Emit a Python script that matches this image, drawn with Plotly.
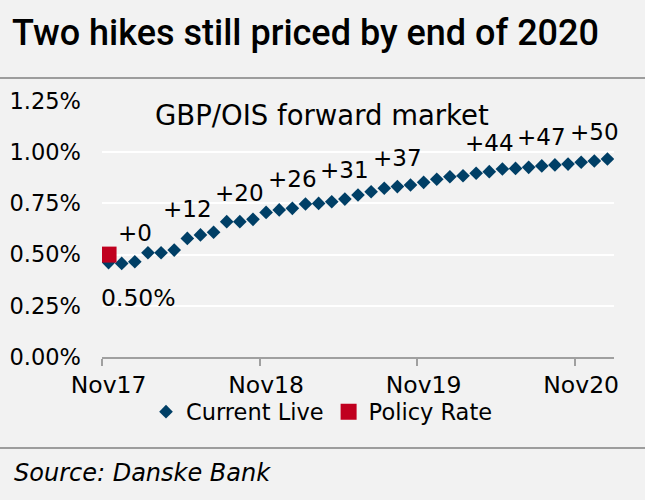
import plotly.graph_objects as go

# ---- data ----
months = ["Nov17", "Dec17", "Jan18", "Feb18", "Mar18", "Apr18", "May18", "Jun18", "Jul18", "Aug18",
          "Sep18", "Oct18", "Nov18", "Dec18", "Jan19", "Feb19", "Mar19", "Apr19", "May19", "Jun19",
          "Jul19", "Aug19", "Sep19", "Oct19", "Nov19", "Dec19", "Jan20", "Feb20", "Mar20", "Apr20",
          "May20", "Jun20", "Jul20", "Aug20", "Sep20", "Oct20", "Nov20", "Dec20", "Jan21"]
current_live = [0.461, 0.457, 0.465, 0.509, 0.509, 0.522, 0.579, 0.596, 0.609, 0.661,
                0.661, 0.672, 0.706, 0.718, 0.726, 0.747, 0.750, 0.758, 0.771, 0.791,
                0.807, 0.824, 0.832, 0.840, 0.853, 0.868, 0.880, 0.885, 0.897, 0.905,
                0.918, 0.921, 0.926, 0.933, 0.938, 0.942, 0.951, 0.957, 0.967]
policy_month = ["Nov17"]
policy_rate = [0.50]
hike_label_idx = [2, 6, 10, 14, 18, 22, 29, 33, 37]
hike_labels = ["+0", "+12", "+20", "+26", "+31", "+37", "+44", "+47", "+50"]
x_tick_labels = ["Nov17", "Nov18", "Nov19", "Nov20"]
y_ticks = [0, 0.25, 0.5, 0.75, 1.0, 1.25]

BLUE = "#003f66"
RED = "#c0001f"
BG = "#f2f2f2"
FONT = "DejaVu Sans"

W, H = 645, 500
L, R, T, B = 102, 31, 101, 143
pw, ph = W - L - R, H - T - B


def px_x(x):
    return (x - L) / pw


def px_y(y):
    return (H - B - y) / ph


# month categories mapped to positions 0..n-1 (category-style axis)
xpos = list(range(len(months)))
policy_pos = [months.index(m) for m in policy_month]
label_pos = [months.index(m) for m in x_tick_labels]
boundary_pos = [p - 0.5 for p in label_pos]

fig = go.Figure()
fig.add_trace(go.Scatter(
    x=xpos, y=current_live, mode="markers", name="Current Live", customdata=months,
    hovertemplate="%{customdata}: %{y:.2f}%<extra></extra>",
    marker=dict(symbol="diamond", size=10.5, color=BLUE, line=dict(width=0)),
))
fig.add_trace(go.Scatter(
    x=policy_pos, y=policy_rate, mode="markers", name="Policy Rate", customdata=policy_month,
    hovertemplate="%{customdata}: %{y:.2f}%<extra></extra>",
    marker=dict(symbol="square", size=16, color=RED, line=dict(width=0)),
))

annotations = []
for i, t in zip(hike_label_idx, hike_labels):
    annotations.append(dict(
        x=xpos[i], y=current_live[i], xref="x", yref="y", text=t, showarrow=False,
        yshift=29, font=dict(family=FONT, size=23, color="#000000"),
        xanchor="center", yanchor="middle",
    ))
annotations.append(dict(
    x=policy_pos[0], y=policy_rate[0], xref="x", yref="y",
    text=f"{policy_rate[0]:.2f}%", showarrow=False, xanchor="left", yanchor="middle",
    xshift=-10, yshift=-43, font=dict(family=FONT, size=23.5, color="#000000"),
))
annotations.append(dict(
    x=px_x(322), y=px_y(115), xref="paper", yref="paper", text="GBP/OIS forward market",
    showarrow=False, xanchor="center", yanchor="middle",
    font=dict(family=FONT, size=27.5, color="#000000"),
))
annotations.append(dict(
    x=px_x(12), y=px_y(473), xref="paper", yref="paper",
    text="<i>Source: Danske Bank</i>", showarrow=False, xanchor="left", yanchor="middle",
    font=dict(family=FONT, size=24, color="#000000"),
))

fig.update_layout(
    width=W, height=H,
    margin=dict(l=L, r=R, t=T, b=B, pad=0, autoexpand=False),
    paper_bgcolor=BG, plot_bgcolor=BG,
    font=dict(family=FONT, color="#000000"),
    title=dict(
        text="Two hikes still priced by end of 2020",
        x=12 / W, xanchor="left", xref="container",
        y=1 - 32 / H, yanchor="middle", yref="container",
        font=dict(family="Roboto", size=36, color="#000000", weight=500),
    ),
    showlegend=True,
    legend=dict(
        orientation="h", x=px_x(322), y=px_y(412),
        xanchor="center", yanchor="middle",
        font=dict(family=FONT, size=22.5, color="#000000"),
        bgcolor="rgba(0,0,0,0)", itemwidth=30, tracegroupgap=0,
    ),
    annotations=annotations,
    shapes=[
        dict(type="line", xref="paper", yref="paper",
             x0=px_x(0), x1=px_x(W), y0=px_y(78), y1=px_y(78),
             line=dict(color="#808080", width=1.5)),
        dict(type="line", xref="paper", yref="paper",
             x0=px_x(0), x1=px_x(W), y0=px_y(448), y1=px_y(448),
             line=dict(color="#808080", width=1.5)),
    ],
)

fig.update_xaxes(
    type="linear", range=[-0.5, len(months) - 0.5],
    tickmode="array", tickvals=label_pos, ticktext=x_tick_labels, tickangle=0,
    ticks="",
    minor=dict(tickmode="array", tickvals=boundary_pos, ticks="outside", ticklen=7,
               tickwidth=1.5, tickcolor="#a0a0a0", showgrid=False),
    showline=True, linecolor="#a0a0a0", linewidth=1.5,
    showgrid=False, zeroline=False,
    tickfont=dict(family=FONT, size=23.5, color="#000000"),
    ticklabelstandoff=6,
)
fig.update_yaxes(
    range=[0, 1.25], tickmode="array", tickvals=y_ticks,
    ticktext=[f"{v:.2f}%" for v in y_ticks],
    showgrid=True, gridcolor="#ffffff", gridwidth=2,
    zeroline=False, showline=False, ticks="",
    tickfont=dict(family=FONT, size=22.5, color="#000000"),
    ticklabelstandoff=20,
)

fig.write_html(
    "out.html",
    config={"displayModeBar": False},
    post_script="document.body.style.margin='0';document.body.style.overflow='hidden';"
                "document.documentElement.style.overflow='hidden';",
)
